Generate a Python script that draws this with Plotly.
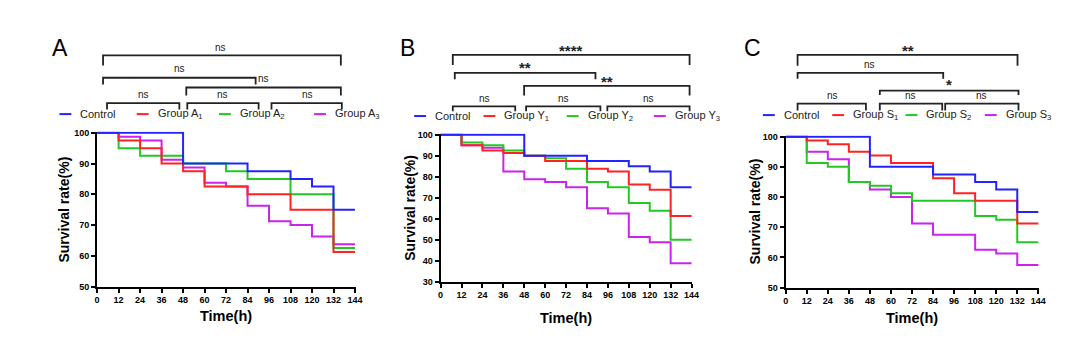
import plotly.graph_objects as go

# ---------------- data ----------------
time_h = [0, 12, 24, 36, 48, 60, 72, 84, 96, 108, 120, 132, 144]
x_ticks = [0, 12, 24, 36, 48, 60, 72, 84, 96, 108, 120, 132, 144]

# Panel A
a_control = [100, 100, 100, 100, 90, 90, 90, 87.5, 87.5, 85, 82.5, 75, 75]
a_group1 = [100, 97.5, 95, 90, 87.5, 82.5, 82.5, 80, 80, 75, 75, 61.25, 61.25]
a_group2 = [100, 95, 92.5, 92.5, 90, 90, 87.5, 85, 85, 80, 80, 62.5, 62.5]
a_group3 = [100, 98.75, 97.5, 91.25, 88.75, 83.75, 82.5, 76.25, 71.25, 70, 66.25, 63.75, 63.75]

# Panel B
b_control = [100, 100, 100, 100, 90, 90, 90, 87.5, 87.5, 85, 82.5, 75, 75]
b_group1 = [100, 95, 92.5, 91.25, 90, 87.5, 87.5, 83.75, 82.5, 76.25, 73.75, 61.25, 61.25]
b_group2 = [100, 96.25, 95, 92.5, 90, 88.75, 83.75, 77.5, 75, 67.5, 63.75, 50, 50]
b_group3 = [100, 95, 93.75, 82.5, 78.75, 77.5, 75, 65, 62.5, 51.25, 48.75, 38.75, 38.75]

# Panel C
c_control = [100, 100, 100, 100, 90, 90, 90, 87.5, 87.5, 85, 82.5, 75, 75]
c_group1 = [100, 98.75, 97.5, 95, 93.75, 91.25, 91.25, 86.25, 81.25, 78.75, 78.75, 71.25, 71.25]
c_group2 = [100, 91.25, 90, 85, 83.75, 81.25, 78.75, 78.75, 78.75, 73.75, 72.5, 65, 65]
c_group3 = [100, 95, 92.5, 85, 82.5, 80, 71.25, 67.5, 67.5, 62.5, 61.25, 57.5, 57.5]

a_names = ["Control", "Group A<sub>1</sub>", "Group A<sub>2</sub>", "Group A<sub>3</sub>"]
b_names = ["Control", "Group Y<sub>1</sub>", "Group Y<sub>2</sub>", "Group Y<sub>3</sub>"]
c_names = ["Control", "Group S<sub>1</sub>", "Group S<sub>2</sub>", "Group S<sub>3</sub>"]

a_yrange = [50, 100]
b_yrange = [30, 100]
c_yrange = [50, 100]

a_sig = ["ns", "ns", "ns", "ns", "ns", "ns"]
b_sig = ["****", "**", "**", "ns", "ns", "ns"]
c_sig = ["**", "ns", "*", "ns", "ns", "ns"]

# ---------------- styling ----------------
W, H = 1080, 351
COLORS = ["#2323ff", "#ff2222", "#22c922", "#cc22ee"]
FONT = "Arial, Liberation Sans, Helvetica, sans-serif"


def px(x):
    return x / W


def py(y):
    return 1 - y / H


fig = go.Figure()

panels = [
    dict(key="", ctrl=a_control, g=[a_group1, a_group2, a_group3], names=a_names,
         yr=a_yrange, dom_x=(95, 356), dom_y=(131, 290), sig=a_sig, letter="A",
         letter_x=58, ytitle_x=62, xtitle_y=320,
         legend_y=113, legend_x=[57, 135, 218, 314],
         brackets=[(101, 341, 52.7, 63), (101, 255, 75.7, 82.7), (185, 341, 85.7, 94),
                   (105, 178, 101.7, 108.3), (186, 258, 101.7, 108.3), (271, 342, 101.7, 108.3)],
         labels=[(220, 45), (178, 65.7), (263, 76.7), (142, 93.3), (222, 93.3), (307, 93.3)]),
    dict(key="2", ctrl=b_control, g=[b_group1, b_group2, b_group3], names=b_names,
         yr=b_yrange, dom_x=(441.7, 695.7), dom_y=(133, 285), sig=b_sig, letter="B",
         letter_x=408, ytitle_x=410, xtitle_y=322,
         legend_y=115, legend_x=[415, 485, 569, 657],
         brackets=[(454, 693, 52.3, 62.7), (456, 598, 70.7, 77.3), (526, 693, 84, 94),
                   (454, 517, 105, 110), (528, 603, 105, 110), (610, 693, 105, 110)],
         labels=[(573, 46), (527, 63.5), (610, 78), (486, 96.7), (566, 96.7), (652, 96.7)]),
    dict(key="3", ctrl=c_control, g=[c_group1, c_group2, c_group3], names=c_names,
         yr=c_yrange, dom_x=(790, 1045.7), dom_y=(135, 291), sig=c_sig, letter="C",
         letter_x=757, ytitle_x=759, xtitle_y=322,
         legend_y=114, legend_x=[767, 837, 911, 991],
         brackets=[(802, 1024, 52.3, 63.3), (802, 949, 70.7, 76.7), (885, 1025, 89, 93.3),
                   (802, 871, 102.3, 109.3), (885, 948, 102.3, 109.3), (951, 1025, 102.3, 109.3)],
         labels=[(913, 46), (875, 61.7), (955, 81), (837, 94), (916, 94), (988, 94)]),
]

shapes = []
annotations = []

for p in panels:
    k = p["key"]
    xa = "x" + k
    ya = "y" + k
    series = [p["ctrl"]] + p["g"]
    # draw order: group3, group2, group1, control (control on top)
    for idx in [3, 2, 1, 0]:
        fig.add_trace(go.Scatter(
            x=time_h, y=series[idx], mode="lines", line_shape="hv",
            line=dict(color=COLORS[idx], width=2), xaxis=xa, yaxis=ya,
            showlegend=False, hoverinfo="x+y"))

    x0, x1 = p["dom_x"]
    y0, y1 = p["dom_y"]
    yr = p["yr"]
    span = yr[1] - yr[0]
    pad = span * 1.2 / (y1 - y0)
    axis_common = dict(
        showline=True, linewidth=2, linecolor="black", ticks="outside",
        ticklen=4, tickwidth=1.6, tickcolor="black", showgrid=False,
        zeroline=False, mirror=False,
        tickfont=dict(family=FONT, size=9, color="black", weight="bold"))
    fig.update_layout(**{
        "xaxis" + k: dict(domain=[px(x0), px(x1)], range=[0, 144.4],
                           tickvals=x_ticks, anchor=ya, **axis_common),
        "yaxis" + k: dict(domain=[py(y1), py(y0)], range=[yr[0], yr[1] + pad],
                           tickvals=list(range(yr[0], yr[1] + 1, 10)), anchor=xa,
                           **axis_common),
    })

    # axis titles
    annotations.append(dict(
        x=px(p["ytitle_x"]), y=py((y0 + y1) / 2), xref="paper", yref="paper",
        text="Survival rate(%)", textangle=-90, showarrow=False,
        font=dict(family=FONT, size=14, color="black", weight="bold"),
        xanchor="center", yanchor="middle"))
    annotations.append(dict(
        x=px((x0 + x1) / 2), y=py(p["xtitle_y"]), xref="paper", yref="paper",
        text="Time(h)", showarrow=False,
        font=dict(family=FONT, size=14.5, color="black", weight="bold"),
        xanchor="center", yanchor="middle"))
    # panel letter
    annotations.append(dict(
        x=px(p["letter_x"]), y=py(45), xref="paper", yref="paper",
        text=p["letter"], showarrow=False,
        font=dict(family=FONT, size=23, color="black"),
        xanchor="center", yanchor="middle"))

    # legend
    for i, name in enumerate(p["names"]):
        lx = p["legend_x"][i]
        ly = p["legend_y"]
        shapes.append(dict(type="line", xref="paper", yref="paper",
                           x0=px(lx), x1=px(lx + 12), y0=py(ly), y1=py(ly),
                           line=dict(color=COLORS[i], width=2)))
        annotations.append(dict(
            x=px(lx + 19), y=py(ly), xref="paper", yref="paper", text=name,
            showarrow=False, xanchor="left", yanchor="middle",
            font=dict(family=FONT, size=11, color="#222")))

    # significance brackets
    for (bx0, bx1, bt, bb), (lxp, lyp), s in zip(p["brackets"], p["labels"], p["sig"]):
        path = "M {a},{b} L {a},{c} L {d},{c} L {d},{e}".format(
            a=px(bx0), b=py(bb), c=py(bt), d=px(bx1), e=py(bb))
        shapes.append(dict(type="path", xref="paper", yref="paper", path=path,
                           line=dict(color="#222", width=1.8)))
        star = "*" in s
        annotations.append(dict(
            x=px(lxp), y=py(lyp + (2 if star else 0)), xref="paper", yref="paper", text=s,
            showarrow=False, xanchor="center", yanchor="middle",
            font=dict(family=FONT, size=15 if star else 10, color="#222",
                      weight="bold" if star else "normal")))

fig.update_layout(
    width=W, height=H, margin=dict(l=0, r=0, t=0, b=0),
    paper_bgcolor="white", plot_bgcolor="white",
    shapes=shapes, annotations=annotations, showlegend=False,
    font=dict(family=FONT, color="black"))

fig.write_html("out.html")
